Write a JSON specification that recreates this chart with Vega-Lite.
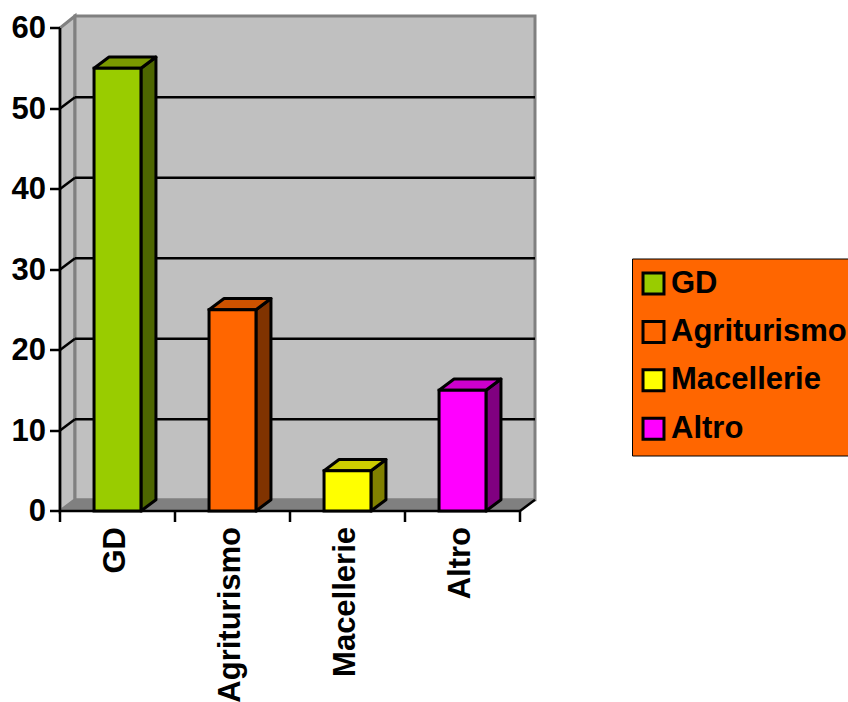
{
"$schema":"https://vega.github.io/schema/vega-lite/v6.json",
"width":475,"height":495,
"autosize":{"type":"none"},
"padding":{"left":60,"top":16,"right":313,"bottom":191},
"background":"white",
"config":{"view":{"stroke":null},"font":"Liberation Sans"},
"datasets":{
"bars":[
{"category":"GD","position":0,"value":55},
{"category":"Agriturismo","position":1,"value":25},
{"category":"Macellerie","position":2,"value":5},
{"category":"Altro","position":3,"value":15}
],
"ticks":[{"tick":10},{"tick":20},{"tick":30},{"tick":40},{"tick":50}]
},
"layer":[
{"data":{"values":[{"part":"left wall"}]},
"transform":[{"calculate":"[0,0.1304]","as":"xs"},{"calculate":"[0,1.4]","as":"lo"},{"calculate":"[60,61.5]","as":"hi"},{"flatten":["xs","lo","hi"]}],
"mark":{"type":"area","fill":"#c0c0c0","stroke":"#808080","strokeWidth":3},
"encoding":{
"x":{"field":"xs","type":"quantitative","title":null,"scale":{"domain":[0,4.1304],"nice":false,"zero":false},
"axis":{"title":null,"values":[0,1,2,3,4],"labelExpr":"['GD','Agriturismo','Macellerie','Altro',''][datum.value]","labelOffset":56,"labelAngle":-90,"labelFont":"Liberation Sans","labelFontWeight":"bold","labelFontSize":31,"labelColor":"black","labelPadding":5,"tickSize":11,"tickWidth":2.5,"tickColor":"black","domain":false,"translate":0,"grid":false,"zindex":1,"labelOverlap":false,"labelBound":false,"labelFlush":false,"labelLimit":300}},
"y":{"field":"lo","type":"quantitative","title":null,"scale":{"domain":[0,61.5],"nice":false,"zero":false},
"axis":{"title":null,"values":[0,10,20,30,40,50,60],"labelFont":"Liberation Sans","labelFontWeight":"bold","labelFontSize":31,"labelColor":"black","labelPadding":4,"labelOffset":1,"tickSize":10,"tickWidth":2.5,"tickColor":"black","domain":false,"translate":0,"grid":false,"zindex":1,"labelOverlap":false,"labelBound":false}},
"y2":{"field":"hi"}}},
{"data":{"values":[{"part":"back wall"}]},
"mark":{"type":"rect","fill":"#c0c0c0","stroke":"#808080","strokeWidth":3},
"encoding":{"x":{"datum":0.1304,"type":"quantitative","title":null},"x2":{"datum":4.1304},"y":{"datum":1.4,"type":"quantitative","title":null},"y2":{"datum":61.5}}},
{"data":{"values":[{"part":"floor"}]},
"transform":[{"calculate":"[0,0.1304,4,4.1304]","as":"xs"},{"calculate":"[0,0,0,1.4]","as":"lo"},{"calculate":"[0,1.4,1.4,1.4]","as":"hi"},{"flatten":["xs","lo","hi"]}],
"mark":{"type":"area","fill":"#808080"},
"encoding":{"x":{"field":"xs","type":"quantitative","title":null},"y":{"field":"lo","type":"quantitative","title":null},"y2":{"field":"hi"}}},
{"data":{"name":"ticks"},
"transform":[{"calculate":"datum.tick+1.4","as":"back"},{"calculate":"[0,0.1304]","as":"xs"},{"calculate":"[datum.tick,datum.back]","as":"ys"},{"flatten":["xs","ys"]}],
"mark":{"type":"line","color":"black","strokeWidth":2.5},
"encoding":{"x":{"field":"xs","type":"quantitative","title":null},"y":{"field":"ys","type":"quantitative","title":null},"detail":{"field":"tick"}}},
{"data":{"name":"ticks"},
"transform":[{"calculate":"datum.tick+1.4","as":"back"}],
"mark":{"type":"rule","color":"black","strokeWidth":2.5},
"encoding":{"x":{"datum":0.1304,"type":"quantitative","title":null},"x2":{"datum":4.1304},"y":{"field":"back","type":"quantitative","title":null}}},
{"data":{"values":[{"part":"floor edge"}]},
"transform":[{"calculate":"[4,4.1304]","as":"xs"},{"calculate":"[0,1.4]","as":"ys"},{"flatten":["xs","ys"]}],
"mark":{"type":"line","color":"black","strokeWidth":2.5},
"encoding":{"x":{"field":"xs","type":"quantitative","title":null},"y":{"field":"ys","type":"quantitative","title":null}}},
{"data":{"values":[{"part":"front axis"}]},
"mark":{"type":"rule","color":"black","strokeWidth":2.5},
"encoding":{"x":{"datum":0,"type":"quantitative","title":null},"x2":{"datum":4},"y":{"datum":0,"type":"quantitative","title":null}}},
{"data":{"values":[{"part":"left axis"}]},
"mark":{"type":"rule","color":"black","strokeWidth":2.5},
"encoding":{"x":{"datum":0,"type":"quantitative","title":null},"y":{"datum":0,"type":"quantitative","title":null},"y2":{"datum":60}}},
{"data":{"name":"bars"},
"transform":[{"calculate":"datum.position+0.704","as":"right"},
{"calculate":"[datum.right,datum.right+0.1304]","as":"xs"},{"calculate":"[0,1.4]","as":"lo"},{"calculate":"[datum.value,datum.value+1.4]","as":"hi"},{"flatten":["xs","lo","hi"]}],
"mark":{"type":"area","stroke":"black","strokeWidth":3,"strokeJoin":"round"},
"encoding":{"x":{"field":"xs","type":"quantitative","title":null},"y":{"field":"lo","type":"quantitative","title":null},"y2":{"field":"hi"},
"fill":{"field":"category","type":"nominal","scale":{"domain":["GD","Agriturismo","Macellerie","Altro"],"range":["#4d6600","#803300","#808000","#800080"]},"legend":null}}},
{"data":{"name":"bars"},
"transform":[{"calculate":"datum.position+0.296","as":"left"},{"calculate":"datum.position+0.704","as":"right"},
{"calculate":"[datum.left,datum.left+0.1304,datum.right,datum.right+0.1304]","as":"xs"},
{"calculate":"[datum.value,datum.value,datum.value,datum.value+1.4]","as":"lo"},
{"calculate":"[datum.value,datum.value+1.4,datum.value+1.4,datum.value+1.4]","as":"hi"},{"flatten":["xs","lo","hi"]}],
"mark":{"type":"area","stroke":"black","strokeWidth":3,"strokeJoin":"round"},
"encoding":{"x":{"field":"xs","type":"quantitative","title":null},"y":{"field":"lo","type":"quantitative","title":null},"y2":{"field":"hi"},
"stroke":{"value":"black"},
"fillOpacity":{"value":1},
"detail":{"field":"category"},
"color":{"field":"category","type":"nominal","scale":{"domain":["GD","Agriturismo","Macellerie","Altro"],"range":["#7a9900","#cc5200","#cccc00","#cc00cc"]},"legend":null}}},
{"data":{"name":"bars"},
"transform":[{"calculate":"datum.position+0.296","as":"left"},{"calculate":"datum.position+0.704","as":"right"}],
"mark":{"type":"rect","stroke":"black","strokeWidth":3},
"encoding":{"x":{"field":"left","type":"quantitative","title":null},"x2":{"field":"right"},"y":{"field":"value","type":"quantitative","title":null},"y2":{"datum":0},
"color":{"field":"category","type":"nominal","scale":{"domain":["GD","Agriturismo","Macellerie","Altro"],"range":["#99cc00","#ff6600","#ffff00","#ff00ff"]},
"legend":{"title":null,"orient":"none","legendX":572,"legendY":242.5,"fillColor":"#ff6600","strokeColor":"black","encoding":{"legend":{"update":{"strokeWidth":{"value":3}}},"labels":{"update":{"dy":{"value":1.5}}}},"symbolType":"square","symbolSize":440,"symbolStrokeColor":"black","symbolStrokeWidth":3,"symbolOpacity":1,"symbolOffset":-3.5,"labelFont":"Liberation Sans","labelFontWeight":"bold","labelFontSize":31,"labelColor":"black","labelLimit":400,"labelOffset":2,"rowPadding":15.4,"padding":9.5}}}}
],
"resolve":{"scale":{"color":"independent","fill":"independent"}}
}
